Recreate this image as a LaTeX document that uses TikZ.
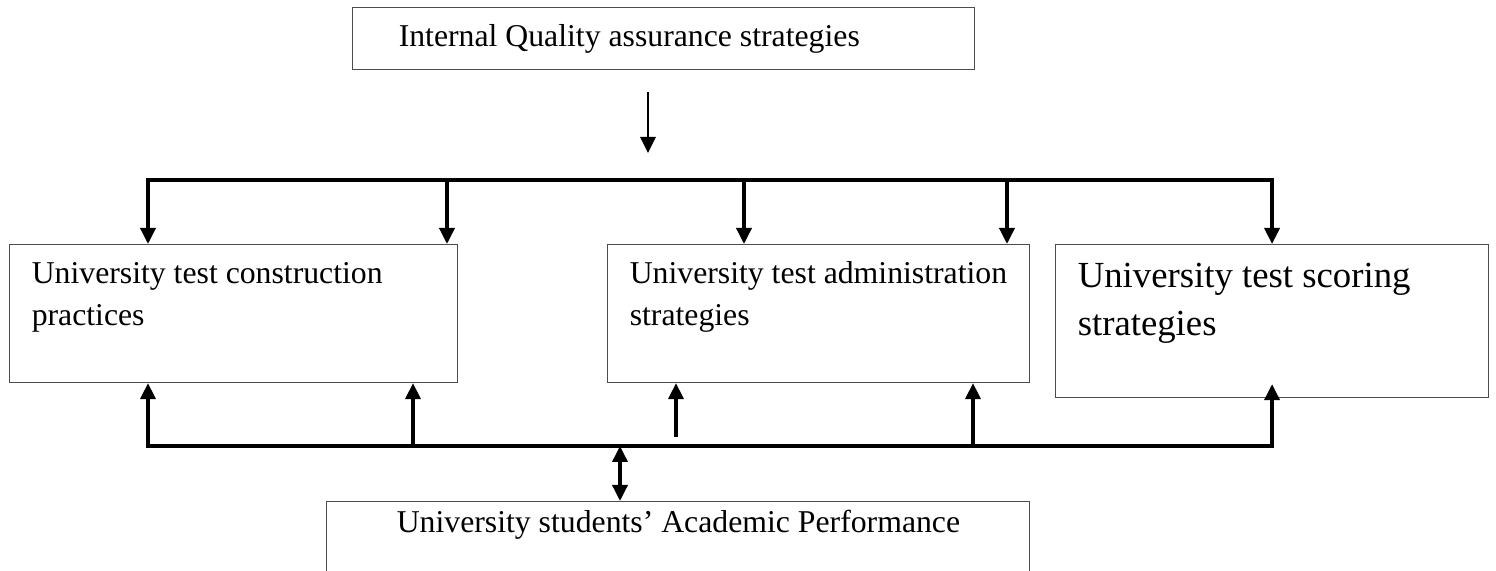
\documentclass[tikz,border=0pt]{standalone}
\usepackage{fontspec}
\setmainfont{Liberation Serif}
\usetikzlibrary{arrows.meta}
\tikzset{every picture/.style={line width=1.4pt}}

\begin{document}
\begin{tikzpicture}[x=0.4pt, y=-0.4pt, >={Triangle[width=6pt, length=6.4pt]},
        box/.style={draw=black!70, line width=0.45pt, anchor=north west, inner sep=0pt},
        txt/.style={anchor=base west, inner sep=0pt, align=left, font=\fontsize{12.7}{16.8}\selectfont}]
        \useasboundingbox (0,0) rectangle (1496,571);
        \clip (0,0) rectangle (1496,571);
        % boxes
        \node[box, minimum width=248.8pt, minimum height=24.8pt] (iqa)  at (352,7)    {};
        \node[box, minimum width=179.2pt, minimum height=55.2pt] (c1)   at (9,244)    {};
        \node[box, minimum width=168.8pt, minimum height=55.2pt] (c2)   at (607,244)  {};
        \node[box, minimum width=173.2pt, minimum height=61.2pt] (c3)   at (1055,244) {};
        \node[box, minimum width=281.2pt, minimum height=48pt]   (perf) at (326,501)  {};
        % box texts (base = last line)
        \node[txt] (iqat)  at ([shift={(45,40)}]iqa.north west)  {Internal Quality assurance strategies};
        \node[txt] (c1t)   at ([shift={(21,82)}]c1.north west)   {University test construction\\practices};
        \node[txt] (c2t)   at ([shift={(21,82)}]c2.north west)   {University test administration\\strategies};
        \node[txt, font=\fontsize{14.7}{19.2}\selectfont] (c3t) at ([shift={(21,92)}]c3.north west) {University test scoring\\strategies};
        \node[txt] (perft) at ([shift={(69,32)}]perf.north west) {University students’ Academic Performance};
        % top bus
        \coordinate (d0)  at (648,92);
        \coordinate (d1)  at (648,153);
        \coordinate (tb1) at (148,180);
        \coordinate (tb2) at (447,180);
        \coordinate (tb3) at (744,180);
        \coordinate (tb4) at (1007,180);
        \coordinate (tb5) at (tb1 -| c3.north);
        \draw[->, line width=1.1pt] (d0) -- (d1);
        \draw[<->] (tb1 |- c1.north) -- (tb1) -- (tb5) -- (c3.north);
        \draw[->] (tb2) -- (tb2 |- c1.north);
        \draw[->] (tb3) -- (tb3 |- c2.north);
        \draw[->] (tb4) -- (tb4 |- c2.north);
        % bottom bus
        \coordinate (bb0) at (620,446);
        \coordinate (bb1) at (148,446);
        \coordinate (bb2) at (413,446);
        \coordinate (bb3) at (973,446);
        \coordinate (bb4) at (bb1 -| c3.south);
        \coordinate (u0)  at (676,437);
        \draw[<->] (c1.south -| bb1) -- (bb1) -- (bb4) -- ([yshift=5.6pt]c3.south);
        \draw[->] (bb2) -- (bb2 |- c1.south);
        \draw[->] (u0)  -- (u0 |- c2.south);
        \draw[->] (bb3) -- (bb3 |- c2.south);
        \draw[<->] (bb0) -- (bb0 |- perf.north);
\end{tikzpicture}
\end{document}
